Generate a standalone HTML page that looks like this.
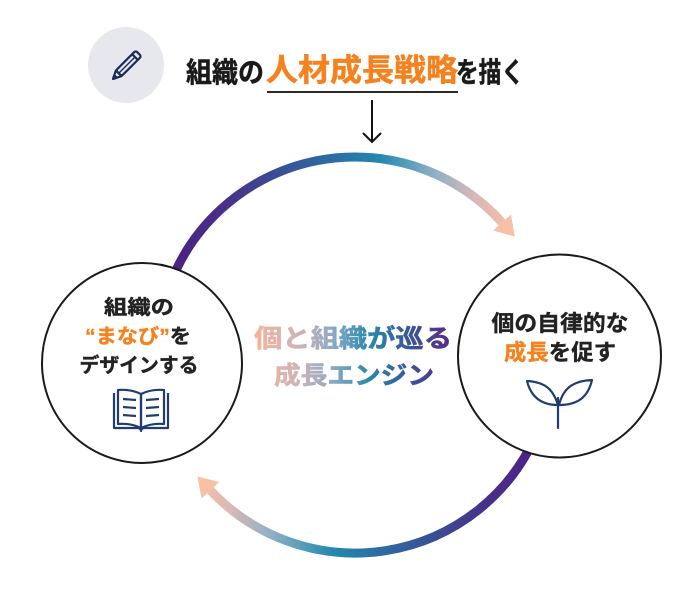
<!DOCTYPE html>
<html><head><meta charset="utf-8"><style>
html,body{margin:0;padding:0;background:#fff;}
svg{display:block;}
text{font-family:"Liberation Sans","Noto Sans CJK JP",sans-serif;font-weight:bold;}
</style></head><body>
<svg width="697" height="590" viewBox="0 0 697 590" xmlns="http://www.w3.org/2000/svg">
<defs>
<linearGradient id="gTop" gradientUnits="userSpaceOnUse" x1="177" y1="0" x2="515" y2="0">
<stop offset="0" stop-color="#4b2384"/>
<stop offset="0.15" stop-color="#47318a"/>
<stop offset="0.35" stop-color="#35589a"/>
<stop offset="0.5" stop-color="#2a74a6"/>
<stop offset="0.6" stop-color="#2388ad"/>
<stop offset="0.76" stop-color="#8db0c6"/>
<stop offset="0.88" stop-color="#d8b8b8"/>
<stop offset="1" stop-color="#f8c0a4"/>
</linearGradient>
<linearGradient id="gBot" gradientUnits="userSpaceOnUse" x1="534" y1="0" x2="198" y2="0">
<stop offset="0" stop-color="#4b2384"/>
<stop offset="0.15" stop-color="#47318a"/>
<stop offset="0.35" stop-color="#35589a"/>
<stop offset="0.5" stop-color="#2a74a6"/>
<stop offset="0.6" stop-color="#2388ad"/>
<stop offset="0.78" stop-color="#8db0c6"/>
<stop offset="0.9" stop-color="#d8b8b8"/>
<stop offset="1" stop-color="#f8c0a4"/>
</linearGradient>
<linearGradient id="gTxt" gradientUnits="userSpaceOnUse" x1="254" y1="0" x2="452" y2="0">
<stop offset="0" stop-color="#f4b49a"/>
<stop offset="0.22" stop-color="#d2b3b8"/>
<stop offset="0.4" stop-color="#8aaac4"/>
<stop offset="0.58" stop-color="#2b88ad"/>
<stop offset="0.78" stop-color="#3a5799"/>
<stop offset="1" stop-color="#5a2888"/>
</linearGradient>
</defs>

<!-- pencil icon -->
<circle cx="126" cy="65" r="38" fill="#e6e8ee"/>
<g transform="translate(126.5,65.5) rotate(-45)" stroke="#1c2b55" stroke-width="2.2" fill="none" stroke-linejoin="round">
<rect x="-11" y="-4" width="28" height="8" rx="2"/>
<line x1="12" y1="-4" x2="12" y2="4"/>
<line x1="-11" y1="0" x2="12" y2="0" stroke-width="1.4"/>
<polygon points="-11,-4 -19,0 -11,4"/>
<polygon points="-19,0 -15.5,-1.8 -15.5,1.8" fill="#1c2b55"/>
</g>

<!-- title -->
<text y="82" font-size="28" fill="#1a1a1a" stroke="#1a1a1a" stroke-width="0.5"><tspan x="186" textLength="78" lengthAdjust="spacingAndGlyphs">組織の</tspan></text>
<text y="81" font-size="31" fill="#f5821f" stroke="#f5821f" stroke-width="0.5"><tspan x="266" textLength="192" lengthAdjust="spacingAndGlyphs">人材成長戦略</tspan></text>
<text y="82" font-size="28" fill="#1a1a1a" stroke="#1a1a1a" stroke-width="0.5"><tspan x="456" textLength="68" lengthAdjust="spacingAndGlyphs">を描く</tspan></text>
<line x1="267" y1="92" x2="458" y2="92" stroke="#2a2a2a" stroke-width="2"/>
<line x1="372" y1="100" x2="372" y2="142" stroke="#111" stroke-width="2"/>
<polyline points="363,133 372,142 381,133" fill="none" stroke="#111" stroke-width="2"/>

<!-- arcs -->
<path d="M168.9,287.3 A198,198 0 0 1 502.1,222.5" fill="none" stroke="url(#gTop)" stroke-width="9"/>
<polygon points="511.0,214.5 514.8,236.6 493.2,230.5" fill="#f8c0a4"/>
<path d="M534.4,438.7 A198,198 0 0 1 210.4,490.3" fill="none" stroke="url(#gBot)" stroke-width="9"/>
<polygon points="201.6,498.5 197.4,476.4 219.2,482.1" fill="#f8c0a4"/>

<!-- left circle -->
<circle cx="142" cy="363" r="100" fill="#fff" stroke="#1a1a1a" stroke-width="2"/>
<g font-size="20" fill="#222" stroke="#222" stroke-width="0.4" text-anchor="middle">
<text x="139" y="314" textLength="70" lengthAdjust="spacingAndGlyphs">組織の</text>
<text x="138" y="343" textLength="106" lengthAdjust="spacingAndGlyphs"><tspan fill="#f5821f" stroke="#f5821f">“まなび”</tspan>を</text>
<text x="139" y="372" textLength="119" lengthAdjust="spacingAndGlyphs">デザインする</text>
</g>
<g stroke="#1f3d6e" stroke-width="2.2" fill="none" stroke-linejoin="round">
<path d="M114,393 L114,428 L137,428 Q141,428 141,431 Q141,428 145,428 L168,428 L168,393"/>
<path d="M118,390 L118,424 Q131,423 141,428 L141,394 Q131,389 118,390 Z"/>
<path d="M164,390 L164,424 Q151,423 141,428 L141,394 Q151,389 164,390 Z"/>
<line x1="123" y1="399" x2="136" y2="400"/>
<line x1="123" y1="407" x2="136" y2="408"/>
<line x1="123" y1="415" x2="136" y2="416"/>
<line x1="146" y1="400" x2="159" y2="399"/>
<line x1="146" y1="408" x2="159" y2="407"/>
<line x1="146" y1="416" x2="159" y2="415"/>
</g>

<!-- right circle -->
<circle cx="559.5" cy="356" r="101.5" fill="#fff" stroke="#1a1a1a" stroke-width="2"/>
<g font-size="22" fill="#222" stroke="#222" stroke-width="0.4" text-anchor="middle">
<text x="560" y="331" textLength="137" lengthAdjust="spacingAndGlyphs">個の自律的な</text>
<text x="560" y="360" textLength="112" lengthAdjust="spacingAndGlyphs"><tspan fill="#f5821f" stroke="#f5821f">成長</tspan>を促す</text>
</g>
<g stroke="#1f3d6e" stroke-width="2.2" fill="none" stroke-linejoin="round" stroke-linecap="round">
<line x1="558" y1="398" x2="558" y2="428"/>
<path d="M558,405 C553,389 545,382 527,381 C531,397 541,405 558,405 Z"/>
<path d="M559,405 C563,389 572,381 592,380 C588,397 578,405 559,405 Z"/>
</g>

<!-- center gradient text -->
<text y="347" font-size="25" fill="url(#gTxt)" stroke="url(#gTxt)" stroke-width="0.6"><tspan x="254" textLength="198" lengthAdjust="spacingAndGlyphs">個と組織が巡る</tspan></text>
<text y="384" font-size="25" fill="url(#gTxt)" stroke="url(#gTxt)" stroke-width="0.6"><tspan x="274" textLength="160" lengthAdjust="spacingAndGlyphs">成長エンジン</tspan></text>
</svg>
</body></html>
